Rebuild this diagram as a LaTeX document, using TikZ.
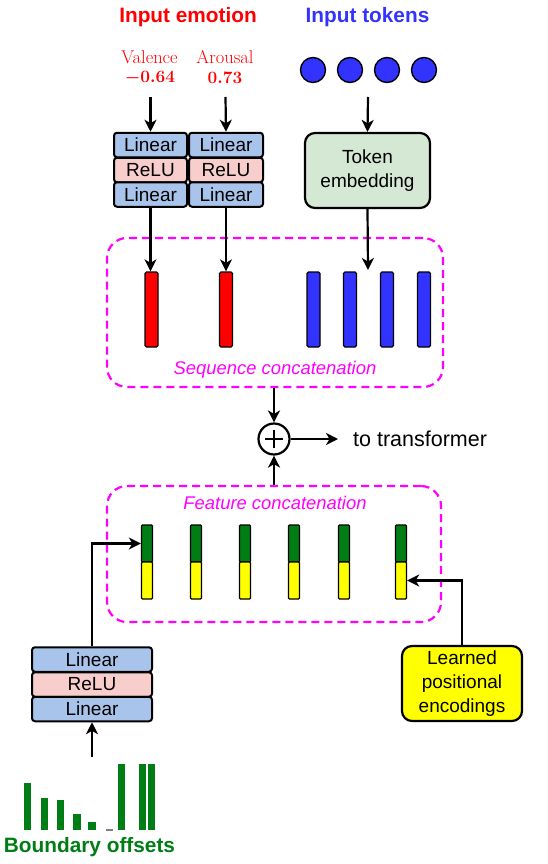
\documentclass[tikz,border=0pt]{standalone}
\usepackage{amsmath}
\usepackage{fontspec}
\setsansfont{Liberation Sans}
\usetikzlibrary{arrows.meta,calc}
\definecolor{mred}{RGB}{255,0,0}
\definecolor{mblue}{RGB}{51,51,255}
\definecolor{mgreen}{RGB}{0,125,20}
\definecolor{lblue}{HTML}{A9C4EB}
\definecolor{lpink}{HTML}{F8CECC}
\definecolor{lgreen}{HTML}{D5E8D4}
\definecolor{mag}{RGB}{255,0,255}
\definecolor{myellow}{RGB}{255,255,0}
\tikzset{
  lay/.style={draw, line width=2pt, rounded corners=3pt, minimum width=74pt, minimum height=24.5pt, inner sep=0pt, font=\sffamily\fontsize{19}{20}\selectfont},
  lin/.style={lay, fill=lblue},
  relu/.style={lay, fill=lpink},
  arr/.style={-{Stealth[length=12pt,width=12pt,inset=3.5pt]}, line width=2.2pt},
  bar/.style={draw, line width=1.3pt, rounded corners=1.5pt, minimum width=13pt, minimum height=75pt, inner sep=0pt},
  fbar/.style={draw, line width=1.3pt, rounded corners=1pt, minimum width=11pt, minimum height=37pt, inner sep=0pt},
  dbox/.style={draw=mag, dash pattern=on 8pt off 5pt, line width=2.2pt, rounded corners=20pt, inner sep=0pt},
  tok/.style={circle, draw, line width=1.4pt, fill=mblue, minimum size=25pt, inner sep=0pt},
  bigbox/.style={draw, line width=2.2pt, rounded corners=10pt, minimum width=120pt, minimum height=75pt, inner sep=0pt, align=center, font=\sffamily\fontsize{19}{24}\selectfont},
  ttl/.style={font=\sffamily\bfseries\fontsize{20.8}{22}\selectfont},
  mlab/.style={text=mag, font=\sffamily\itshape\fontsize{18.4}{20}\selectfont},
  rlab/.style={text=mred, inner sep=0pt, font=\fontsize{18.5}{19}\selectfont},
  obar/.style={fill=mgreen}
}
\begin{document}
\begin{tikzpicture}[x=1pt,y=-1pt]
\useasboundingbox (0,0) rectangle (547,864);

% titles
\node[ttl, text=mred] (t_emo) at (188,17) {Input emotion};
\node[ttl, text=mblue] (t_tok) at (367.5,17) {Input tokens};

% emotion values
\node[rlab] (val) at (149.5,57) {Valence};
\node[rlab] (valn) at (150,78) {$\boldsymbol{-0.64}$};
\node[rlab] (aro) at (225,57) {Arousal};
\node[rlab] (aron) at (225,78) {$\boldsymbol{0.73}$};

% tokens
\node[tok] (c1) at (313,70) {};
\node[tok] (c2) at (350,70) {};
\node[tok] (c3) at (387,70) {};
\node[tok] (c4) at (424,70) {};

% MLPs for emotion
\node[lin, minimum width=73pt] (la1) at (150.5,145) {Linear};
\node[relu, minimum width=73pt] (ra1) at (150.5,170) {ReLU};
\node[lin, minimum width=73pt] (lb1) at (150.5,194.5) {Linear};
\node[lin] (la2) at (226,145) {Linear};
\node[relu] (ra2) at (226,170) {ReLU};
\node[lin] (lb2) at (226,194.5) {Linear};

% token embedding
\node[bigbox, fill=lgreen, minimum width=125pt] (emb) at (367.5,170.5) {Token\\embedding};

% arrows into MLPs / embedding
\coordinate (s1) at (150.5,97);
\coordinate (s2) at (225.5,97);
\coordinate (s3) at (368,97);
\draw[arr] (s1) -- (la1.north);
\draw[arr] (s2) -- (la2.north);
\draw[arr] (s3) -- (emb.north);

% sequence box
\node[dbox, minimum width=336pt, minimum height=149pt] (seq) at (275,312.5) {};
\node[mlab] (seqlab) at (275,370) {Sequence concatenation};

% bars
\node[bar, fill=mred] (r1) at (151.5,309.5) {};
\node[bar, fill=mred] (r2) at (226,309.5) {};
\node[bar, fill=mblue] (b1) at (313.5,309.5) {};
\node[bar, fill=mblue] (b2) at (350,309.5) {};
\node[bar, fill=mblue] (b3) at (387,309.5) {};
\node[bar, fill=mblue] (b4) at (424,309.5) {};

\coordinate (e3) at (368,270);
\draw[arr] (lb1.south) -- (lb1.south |- r1.north);
\draw[arr] (lb2.south) -- (lb2.south |- r2.north);
\draw[arr] (emb.south) -- (e3);

% plus
\node[circle, draw, line width=2.2pt, minimum size=31pt, inner sep=0pt] (plus) at (274,439) {};
\draw[line width=2.2pt] ($(plus.center)+(-9,0)$) -- ($(plus.center)+(9,0)$);
\draw[line width=2.2pt] ($(plus.center)+(0,-9)$) -- ($(plus.center)+(0,9)$);
\coordinate (outp) at (338,439);
\draw[arr] (plus.east) -- (outp);
\node[anchor=west, font=\sffamily\fontsize{21.5}{23}\selectfont, inner sep=0pt] (tt) at (353,439) {to transformer};

% feature box
\node[dbox, minimum width=334pt, minimum height=136pt] (feat) at (274,554) {};
\node[mlab] (featlab) at (275,503) {Feature concatenation};

\draw[arr] (seq.south -| plus.north) -- (plus.north);
\draw[arr] (feat.north -| plus.south) -- (plus.south);

% feature bars
\foreach \i/\x in {1/147,2/196,3/245,4/294,5/344,6/401}{
  \node[fbar, fill=mgreen] (g\i) at (\x,543.5) {};
  \node[fbar, fill=myellow] (y\i) at (\x,580.5) {};
}

% bottom MLP
\node[lin, minimum width=120pt] (bl1) at (92,659.5) {Linear};
\node[relu, minimum width=120pt] (br) at (92,684.5) {ReLU};
\node[lin, minimum width=120pt] (bl2) at (92,709) {Linear};
\draw[arr] (bl1.north) |- (g1.west);
\coordinate (bo) at (92,757);
\draw[arr] (bo) -- (bl2.south);

% learned positional encodings
\node[bigbox, fill=myellow] (lpe) at (462,683.5) {Learned\\positional\\encodings};
\draw[arr] (lpe.north) |- (y6.east);

% boundary offset bars
\fill[obar] (24,783) rectangle (31,830);
\fill[obar] (41,798) rectangle (48,830);
\fill[obar] (57,800) rectangle (64,830);
\fill[obar] (73,814) rectangle (81,830);
\fill[obar] (88,822) rectangle (96,830);
\fill[gray] (106,829) rectangle (113,830.5);
\fill[obar] (118,764) rectangle (125,830);
\fill[obar] (139,764) rectangle (146,830);
\fill[obar] (148,764) rectangle (155,830);
\node[ttl, text=mgreen] (bt) at (89.5,847) {Boundary offsets};
\end{tikzpicture}
\end{document}
